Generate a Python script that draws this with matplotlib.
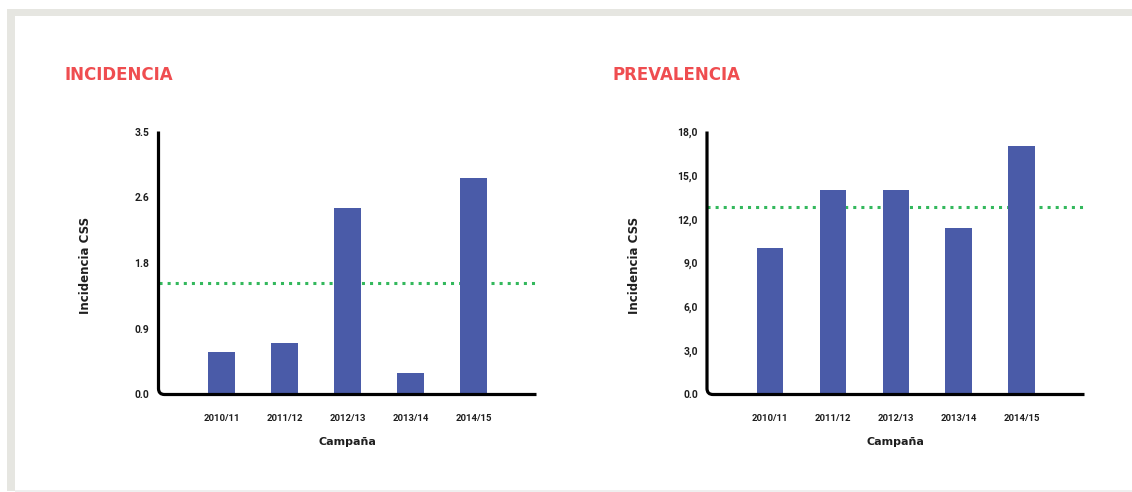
import matplotlib
matplotlib.use("Agg")
import matplotlib.pyplot as plt
from matplotlib.path import Path
from matplotlib.patches import PathPatch, Rectangle

# --- data -------------------------------------------------------------
campaigns = ["2010/11", "2011/12", "2012/13", "2013/14", "2014/15"]

incidence = [0.57, 0.68, 2.48, 0.28, 2.88]
incidence_mean = 1.49
incidence_ticks = [0.0, 0.875, 1.75, 2.625, 3.5]
incidence_ticklabels = ["0.0", "0.9", "1.8", "2.6", "3.5"]

prevalence = [10.0, 14.0, 14.0, 11.4, 17.0]
prevalence_mean = 12.8
prevalence_ticks = [0, 3, 6, 9, 12, 15, 18]
prevalence_ticklabels = ["0.0", "3,0", "6,0", "9,0", "12,0", "15,0", "18,0"]

titles = ["INCIDENCIA", "PREVALENCIA"]
ylabel = "Incidencia CSS"
xlabel = "Campaña"

# --- style ------------------------------------------------------------
W, H = 1132, 492
BAR = "#4a5ba8"
GREEN = "#33b85c"
RED = "#ef4d50"
TEXT = "#1e1e1e"
plt.rcParams["font.family"] = ["Roboto", "DejaVu Sans"]
WIDE = ["DejaVu Sans"]

fig = plt.figure(figsize=(W / 100, H / 100), dpi=100)
fig.patch.set_facecolor("white")

# frame around the panel
def px_rect(x0, y0, x1, y1, color):
    fig.patches.append(Rectangle((x0 / W, 1 - y1 / H), (x1 - x0) / W, (y1 - y0) / H,
                                 transform=fig.transFigure, facecolor=color,
                                 edgecolor="none", zorder=0))

px_rect(7, 9, W, 16, "#e6e6e1")
px_rect(7, 9, 15, 491, "#e6e6e1")
px_rect(15, 490, W, 492, "#efefef")


def panel(x0, x1, values, mean, ticks, ticklabels, title, title_x):
    y_top, y_bot = 131.5, 394.5
    ax = fig.add_axes([x0 / W, 1 - y_bot / H, (x1 - x0) / W, (y_bot - y_top) / H])
    ax.set_facecolor("none")
    xs = list(range(len(campaigns)))
    ax.bar(xs, values, width=0.42, color=BAR, zorder=3)
    ax.axhline(mean, color=GREEN, lw=2.2, linestyle=(0, (1, 1.65)),
               dash_capstyle="butt", zorder=2)
    ax.set_xlim(-1, 5)
    ax.set_ylim(0, ticks[-1])
    ax.set_yticks(ticks)
    ax.set_yticklabels(ticklabels, fontsize=7.4, fontweight="bold", color=TEXT)
    ax.set_xticks(xs)
    ax.set_xticklabels(campaigns, fontsize=6.8, fontweight="bold", color=TEXT)
    ax.tick_params(axis="y", length=0, pad=6.5)
    ax.tick_params(axis="x", length=0, pad=14)
    for s in ax.spines.values():
        s.set_visible(False)

    # axis line with a rounded corner at the origin
    wpx, hpx = x1 - x0, y_bot - y_top
    r = 6.0
    rx, ry = r / wpx, r / hpx
    path = Path([(0, 1), (0, ry), (0, 0), (rx, 0), (1, 0)],
                [Path.MOVETO, Path.LINETO, Path.CURVE3, Path.CURVE3, Path.LINETO])
    ax.add_patch(PathPatch(path, transform=ax.transAxes, fill=False,
                           edgecolor="black", lw=2.3, capstyle="butt",
                           joinstyle="round", clip_on=False, zorder=5))

    fig.text(title_x / W, 1 - 75 / H, title, color=RED, fontsize=12,
             fontweight="bold", family=WIDE, ha="left", va="center")
    fig.text((x0 - 73) / W, 1 - 265 / H, ylabel, rotation=90, fontsize=8.5,
             fontweight="bold", family=WIDE, color=TEXT, ha="center", va="center")
    fig.text((x0 + x1) / 2 / W, 1 - 442 / H, xlabel, fontsize=8,
             fontweight="bold", family=WIDE, color=TEXT, ha="center", va="center")
    return ax


panel(158.5, 536.5, incidence, incidence_mean, incidence_ticks,
      incidence_ticklabels, titles[0], 64)
panel(707, 1084.5, prevalence, prevalence_mean, prevalence_ticks,
      prevalence_ticklabels, titles[1], 612)

fig.savefig("out.png", dpi=100, facecolor="white")
